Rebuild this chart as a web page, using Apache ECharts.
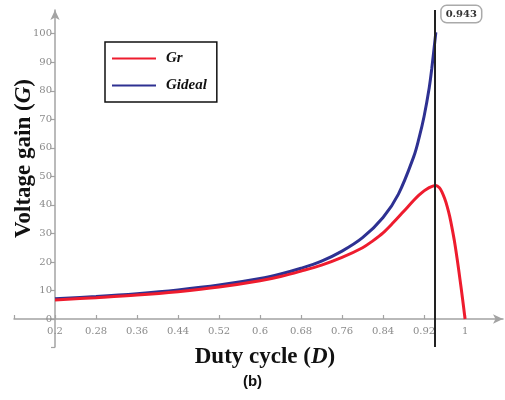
<!DOCTYPE html>
<html>
<head>
<meta charset="utf-8">
<script src="https://cdn.jsdelivr.net/npm/echarts@6/dist/echarts.min.js"></script>
<style>html,body{margin:0;padding:0;background:#fff}#c{width:505px;height:400px}</style>
</head>
<body>
<div id="c"></div>
<script>
// Data
const dutyIdeal = [0.2,0.28,0.36,0.44,0.52,0.6,0.64,0.68,0.72,0.76,0.8,0.84,0.87,0.9,0.91,0.92,0.93,0.935,0.943];
const gainIdeal = [7.1,7.9,8.9,10.2,11.9,14.2,15.8,17.8,20.3,23.8,28.5,35.6,43.8,57,63.3,71,81,87.7,100.5];
const dutyR = [0.2,0.28,0.36,0.44,0.52,0.6,0.64,0.68,0.72,0.76,0.8,0.82,0.84,0.86,0.88,0.9,0.91,0.92,0.93,0.937,0.943,0.95,0.955,0.96,0.965,0.97,0.975,0.98,0.985,0.99,0.995,1.0];
const gainR = [6.7,7.5,8.4,9.6,11.2,13.4,14.9,16.8,18.9,21.6,25.0,27.4,30.2,33.8,37.7,41.6,43.4,44.9,46.05,46.6,46.8,46.0,44.5,42.3,39.5,36,31.5,26.5,20.5,14,7.2,0];
const xTickLabels = [0.2,0.28,0.36,0.44,0.52,0.6,0.68,0.76,0.84,0.92,1];
const yTickLabels = [0,10,20,30,40,50,60,70,80,90,100];
const markerD = 0.943;

const toPairs = (xs, ys) => xs.map((x, i) => [x, ys[i]]);
const axisGrey = '#a3a3a3';
const labelGrey = '#8a8a8a';
const serif = 'Liberation Serif';

const chart = echarts.init(document.getElementById('c'), null, {renderer: 'canvas'});
chart.setOption({
  animation: false,
  backgroundColor: '#fff',
  title: {
    text: '(b)', left: 'center', top: 369,
    textStyle: {fontFamily: 'Liberation Sans', fontWeight: 'bold', fontSize: 15, color: '#111'}
  },
  legend: {
    data: ['Gr', 'Gideal'], orient: 'vertical', left: 105, top: 42,
    borderColor: '#111', borderWidth: 1.5, borderRadius: 0,
    padding: [9, 10, 9, 7], itemGap: 12, itemWidth: 44, itemHeight: 2, icon: 'rect',
    textStyle: {fontFamily: serif, fontWeight: 'bold', fontStyle: 'italic', fontSize: 15, color: '#111', padding: [0, 0, 0, 5]}
  },
  grid: {left: 14, right: 2, top: 10, bottom: 53, containLabel: false, outerBoundsMode: 'none'},
  xAxis: {
    type: 'value', min: 0.12, max: 1.074, position: 'bottom', offset: -28,
    name: '{a|Duty cycle (}{b|D}{a|)}', nameLocation: 'middle', nameGap: 27, nameMoveOverlap: false,
    nameTextStyle: {padding: [0, 0, 0, 13], rich: {
      a: {fontFamily: serif, fontWeight: 'bold', fontSize: 23, color: '#111'},
      b: {fontFamily: serif, fontWeight: 'bold', fontStyle: 'italic', fontSize: 23, color: '#111'}
    }},
    axisLine: {show: true, onZero: false, symbol: ['none', 'arrow'], symbolSize: [7, 10], lineStyle: {color: axisGrey, width: 1.5}},
    axisTick: {show: true, inside: true, length: 4, customValues: [0.12].concat(xTickLabels), lineStyle: {color: axisGrey, width: 1.2}},
    axisLabel: {customValues: xTickLabels, formatter: v => String(v), color: labelGrey, fontFamily: 'DejaVu Serif', fontSize: 10, margin: 7},
    splitLine: {show: false}
  },
  yAxis: {
    type: 'value', min: -9.8, max: 108.3, position: 'left', offset: -41,
    name: '{a|Voltage gain (}{b|G}{a|)}', nameLocation: 'middle', nameGap: 19, nameRotate: 90, nameMoveOverlap: false,
    nameTextStyle: {padding: [0, 0, 0, 40], rich: {
      a: {fontFamily: serif, fontWeight: 'bold', fontSize: 23, color: '#111'},
      b: {fontFamily: serif, fontWeight: 'bold', fontStyle: 'italic', fontSize: 23, color: '#111'}
    }},
    axisLine: {show: true, onZero: false, symbol: ['none', 'arrow'], symbolSize: [7, 10], lineStyle: {color: axisGrey, width: 1.5}},
    axisTick: {show: true, inside: false, length: 4, customValues: [-9.8].concat(yTickLabels), lineStyle: {color: axisGrey, width: 1.2}},
    axisLabel: {customValues: yTickLabels, color: labelGrey, fontFamily: 'DejaVu Serif', fontSize: 10, margin: 3},
    splitLine: {show: false}
  },
  series: [
    {
      name: 'Gideal', type: 'line', data: toPairs(dutyIdeal, gainIdeal),
      smooth: 0.35, showSymbol: false, symbol: 'none',
      lineStyle: {color: '#2e3192', width: 3}, itemStyle: {color: '#2e3192'}, z: 2
    },
    {
      name: 'Gr', type: 'line', data: toPairs(dutyR, gainR),
      smooth: 0.35, showSymbol: false, symbol: 'none',
      lineStyle: {color: '#ee1c2e', width: 3}, itemStyle: {color: '#ee1c2e'}, z: 3,
      markLine: {
        silent: true, symbol: ['none', 'none'],
        lineStyle: {color: '#222', width: 2, type: 'solid'},
        label: {
          show: true, position: 'end', formatter: String(markerD), offset: [27, 17],
          fontFamily: 'DejaVu Serif', fontWeight: 'bold', fontSize: 10, color: '#333',
          backgroundColor: '#fff', borderColor: '#aaa', borderWidth: 1.5, borderRadius: 5, padding: [3, 4]
        },
        data: [{xAxis: markerD}]
      }
    }
  ]
});
</script>
</body>
</html>
